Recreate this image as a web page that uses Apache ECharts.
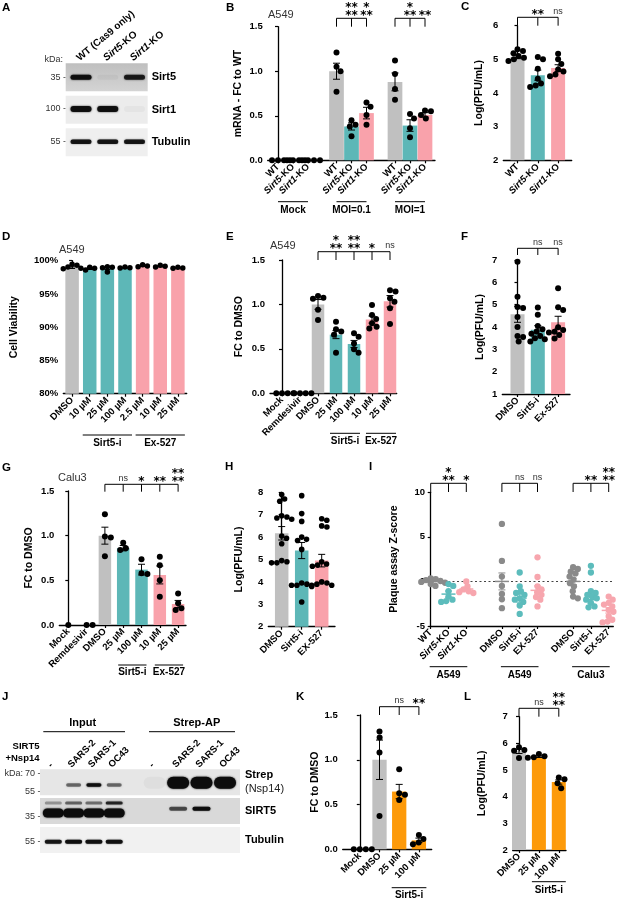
<!DOCTYPE html>
<html><head><meta charset="utf-8">
<script src="https://cdn.jsdelivr.net/npm/echarts@6/dist/echarts.min.js"></script>
<style>html,body{margin:0;padding:0;background:#fff}#c{width:623px;height:899px}</style>
</head><body><div id="c"></div>
<script>
// ================= DATA =================
// Panel A blot (band intensities per lane)
const A_lanes = ['WT (Cas9 only)', 'Sirt5-KO', 'Sirt1-KO'];
const A_strips = ['Sirt5', 'Sirt1', 'Tubulin'];
const A_markers = ['35', '100', '55'];
const A_sirt5Band = [0.95, 0.04, 0.85];
const A_sirt1Band = [0.95, 0.95, 0.03];
const A_tubulinBand = [0.9, 0.9, 0.9];

// Panel B
const B_categories = ['WT','Sirt5-KO','Sirt1-KO','WT','Sirt5-KO','Sirt1-KO','WT','Sirt5-KO','Sirt1-KO'];
const B_mean = [0,0,0,1.00,0.38,0.53,0.88,0.39,0.51];
const B_sem  = [0,0,0,0.09,0.04,0.065,0.10,0.065,0.025];
const B_points = [[0,0,0,0],[0,0,0,0],[0,0,0,0],[1.21,1.05,1.00,0.77],[0.45,0.40,0.38,0.27],[0.65,0.60,0.51,0.40],[1.12,0.97,0.80,0.68],[0.52,0.47,0.36,0.26],[0.56,0.55,0.51,0.47]];
const B_groupLabels = ['Mock','MOI=0.1','MOI=1'];
const B_sig = [['**\n**','*\n**'],['*\n**','**']];

// Panel C
const C_categories = ['WT','Sirt5-KO','Sirt1-KO'];
const C_mean = [5.07,4.53,4.74];
const C_sem = [0.05,0.15,0.10];
const C_points = [[5.30,5.25,5.18,5.10,5.05,5.00,4.95],[5.07,5.00,4.72,4.42,4.28,4.22,4.18],[5.17,5.00,4.86,4.70,4.64,4.55,4.50]];
const C_sig = ['**','ns'];

// Panel D
const D_categories = ['DMSO','10 µM','25 µM','100 µM','2.5 µM','10 µM','25 µM'];
const D_mean = [98.95,98.8,98.85,98.95,99.2,99.15,98.95];
const D_sem = [0.12,0.12,0.18,0.05,0.08,0.07,0.05];
const D_points = [[99.45,99.3,99.05,98.85,98.8],[99.0,98.85,98.6],[99.1,99.0,98.95,98.3],[99.05,98.95,98.9],[99.4,99.2,99.1],[99.3,99.15,99.05],[99.0,98.9,98.85]];
const D_groupLabels = ['Sirt5-i','Ex-527'];

// Panel E
const E_categories = ['Mock','Remdesivir','DMSO','25 µM','100 µM','10 µM','25 µM'];
const E_mean = [0,0,1.00,0.66,0.555,0.83,1.035];
const E_sem = [0,0,0.055,0.045,0.04,0.04,0.065];
const E_points = [[0,0,0,0],[0,0,0,0],[1.095,1.075,1.065,0.94,0.825],[0.806,0.72,0.695,0.66,0.457],[0.675,0.637,0.56,0.495,0.457],[0.994,0.88,0.836,0.787,0.75,0.73],[1.16,1.145,1.07,1.03,0.956,0.78]];
const E_sig = ['*\n**','**\n**','*','ns'];
const E_groupLabels = ['Sirt5-i','Ex-527'];

// Panel F
const F_categories = ['DMSO','Sirt5-i','Ex-527'];
const F_mean = [4.57,3.88,4.21];
const F_sem = [0.36,0.18,0.27];
const F_points = [[6.92,5.36,4.9,4.85,4.45,4.0,3.6,3.55,3.35],[4.87,4.55,4.05,3.9,3.8,3.7,3.6,3.5,3.45,3.35],[5.73,4.88,4.76,3.99,3.87,3.79,3.75,3.64,3.49]];
const F_sig = ['ns','ns'];

// Panel G
const G_categories = ['Mock','Remdesivir','DMSO','25 µM','100 µM','10 µM','25 µM'];
const G_mean = [0,0,1.00,0.86,0.62,0.56,0.235];
const G_sem = [0,0,0.095,0.03,0.06,0.10,0.04];
const G_points = [[0],[0,0],[1.24,0.99,0.98,0.77],[0.92,0.86,0.84],[0.735,0.58,0.57],[0.765,0.67,0.50,0.317],[0.354,0.243,0.187,0.168]];
const G_sig = ['ns','*','**','**\n**'];
const G_groupLabels = ['Sirt5-i','Ex-527'];

// Panel H
const H_categories = ['DMSO','Sirt5-i','EX-527'];
const H_mean = [6.17,5.40,4.95];
const H_sem = [0.30,0.36,0.28];
const H_points = [[7.9,7.7,7.6,6.95,6.9,6.85,6.8,6.05,5.95,5.7,4.95,4.9,4.85,4.85],[7.85,7.05,6.7,6.0,5.9,5.85,5.45,3.95,3.9,3.85,3.85,3.8,3.1],[6.82,6.75,6.5,6.45,4.9,4.8,4.75,4.7,4.0,3.95,3.9,3.85,3.85]];

// Panel I
const I_categories = ['WT','Sirt5-KO','Sirt1-KO','DMSO','Sirt5-i','EX-527','DMSO','Sirt5-i','EX-527'];
const I_mean = [0,-1.42,-0.85,0,-1.87,-1.0,0,-2.05,-3.25];
const I_sem = [0.1,0.35,0.15,0.95,0.45,0.5,0.35,0.4,0.3];
const I_points = [[0.35,0.25,0.15,0.05,-0.05,-0.15,-0.3,-0.5],[-0.3,-0.5,-1.1,-1.7,-2.05,-2.2,-2.3],[0,-0.55,-0.9,-1.1,-1.2,-1.3],[6.45,2.3,0.55,-0.5,-1.4,-2.0,-3.0],[1.0,-0.55,-1.1,-1.3,-1.5,-1.9,-2.05,-2.3,-2.7,-3.65],[2.7,0.5,-0.55,-0.9,-1.2,-1.5,-1.75,-2.05,-2.8],[1.6,1.4,1.1,0.9,0.55,0.2,-0.2,-0.55,-1.1,-1.7,-1.9],[1.75,1.0,-1.1,-1.3,-1.5,-1.7,-1.9,-2.05,-2.4,-2.8,-2.9],[-1.7,-2.05,-2.4,-2.6,-2.8,-3.2,-3.4,-3.9,-4.3,-4.5,-4.6]];
const I_sig = [['*\n**','*'],['ns','ns'],['**','**\n**']];
const I_groupLabels = ['A549','A549','Calu3'];

// Panel J blot
const J_lanes = ['-','SARS-2','SARS-1','OC43','-','SARS-2','SARS-1','OC43'];
const J_strips = ['Strep','SIRT5','Tubulin'];
const J_strepInput = [0, 0.5, 0.95, 0.5];
const J_strepAP = [0.03, 1, 1, 0.97];
const J_sirt5InputUpper = [0.3, 0.5, 0.45, 0.8];
const J_sirt5Input = [1, 1, 1, 1];
const J_sirt5AP = [0, 0.6, 0.95, 0];
const J_tubulinInput = [0.88, 0.95, 0.93, 0.93];

// Panel K
const K_categories = ['Mock','DMSO','25 µM','100 µM'];
const K_mean = [0,1.00,0.645,0.10];
const K_sem = [0,0.22,0.08,0.025];
const K_points = [[0,0,0,0],[1.317,1.25,1.08,0.373],[0.895,0.627,0.608,0.552],[0.16,0.116,0.075,0.056]];
const K_sig = ['ns','**'];

// Panel L
const L_categories = ['DMSO','25 µM','100 µM'];
const L_mean = [5.70,5.50,4.55];
const L_sem = [0.08,0.03,0.08];
const L_points = [[5.85,5.75,5.72,5.45],[5.6,5.52,5.48,5.46],[4.72,4.65,4.5,4.32]];
const L_sig = ['ns','**\n**'];

// ================= STYLE / LAYOUT =================
const FF = '"Liberation Sans", Arial, Helvetica, sans-serif';
const GR = '#c0c0c0', TE = '#5db7b7', PI = '#f9a2ab', OR = '#fd9a0a';
const IG = '#8a8a8a', IT = '#5cbcbc', IP = '#f7a6ae';

const grids = [], xAxes = [], yAxes = [], series = [], graphics = [];
function idxOf(arr, v){ for (let i=0;i<arr.length;i++) if (Math.abs(arr[i]-v)<1e-6) return i; return -1; }
function fmtCat(s){ return s.replace(/^(Sirt[15])(-KO)$/, '{i|$1}$2'); }
function italicRich(fs){ return {i:{fontStyle:'italic', fontWeight:'bold', fontSize:fs, fontFamily:FF, color:'#000'}}; }
function addGrid(l,t,w,h){ grids.push({left:l, top:t, width:w, height:h, containLabel:false, outerBoundsMode:'none'}); return grids.length-1; }

function swarm(ys, d){
  const order = ys.map((y,i)=>i).sort((a,b)=>ys[a]-ys[b]);
  const placed = [], off = new Array(ys.length).fill(0);
  order.forEach(i => {
    const cands = [0];
    placed.forEach(j => { const dy = ys[i]-ys[j]; if (Math.abs(dy) < d) { const dx = Math.sqrt(d*d-dy*dy); cands.push(off[j]+dx, off[j]-dx); } });
    cands.sort((a,b)=>Math.abs(a)-Math.abs(b) || b-a);
    let best = 0;
    for (const c of cands) { if (placed.every(j => (c-off[j])**2 + (ys[i]-ys[j])**2 >= d*d-0.01)) { best = c; break; } }
    off[i] = best; placed.push(i);
  });
  return off;
}

function chartPanel(p){
  const g = addGrid(p.left, p.top, p.width, p.height);
  const xi = xAxes.length, yi = yAxes.length;
  xAxes.push({type:'value', gridIndex:g, min:(p.left-p.x0)/p.unit, max:(p.left+p.width-p.x0)/p.unit,
    axisLine:{show:true, onZero:false, lineStyle:{color:'#000', width:1.3}},
    axisTick:{show:true, customValues:p.pos, length:3, lineStyle:{color:'#000', width:1.2}},
    splitLine:{show:false},
    axisLabel:{customValues:p.pos, rotate:45, margin:5, formatter:(v)=>fmtCat(p.cats[idxOf(p.pos,v)] || ''),
      fontFamily:FF, fontWeight:'bold', fontSize:9.5, color:'#000', rich:italicRich(9.5)}});
  yAxes.push({type:'value', gridIndex:g, min:p.yMin, max:p.yMax, interval:p.yInt,
    name:p.yTitle, nameLocation:'middle', nameGap:p.nameGap,
    nameTextStyle:{fontFamily:FF, fontWeight:'bold', fontSize:10.5, color:'#000'},
    axisLine:{show:true, lineStyle:{color:'#000', width:1.3}},
    axisTick:{show:true, length:3, lineStyle:{color:'#000', width:1.2}},
    splitLine:{show:false},
    axisLabel:{margin:5, formatter:p.yFmt, fontFamily:FF, fontWeight:'bold', fontSize:9.5, color:'#000'}});
  if (p.barW) {
    series.push({type:'bar', xAxisIndex:xi, yAxisIndex:yi, barWidth:p.barW, silent:true, z:2,
      data:p.pos.map((x,i)=>({value:[x,p.mean[i]], itemStyle:{color:p.colors[i]}}))});
  }
  const err = {type:'custom', xAxisIndex:xi, yAxisIndex:yi, clip:false, silent:true, z:5,
    data:p.pos.map((x,i)=>[x,p.mean[i],i]),
    renderItem(params, api){
      const i = params.dataIndex, m = p.mean[i], s = p.sem[i];
      if (!s && !p.meanLine) return {type:'group', children:[]};
      const x = api.coord([p.pos[i], m])[0];
      const yt = api.coord([p.pos[i], m+s])[1], yb = api.coord([p.pos[i], m-s])[1], ym = api.coord([p.pos[i], m])[1];
      const col = p.errColors ? p.errColors[i] : '#000', cw = p.cap;
      const st = {stroke:col, lineWidth:1};
      const ch = [{type:'line', shape:{x1:x,y1:yt,x2:x,y2:yb}, style:st},
        {type:'line', shape:{x1:x-cw,y1:yt,x2:x+cw,y2:yt}, style:st},
        {type:'line', shape:{x1:x-cw,y1:yb,x2:x+cw,y2:yb}, style:st}];
      if (p.meanLine) ch.push({type:'line', shape:{x1:x-p.meanLine,y1:ym,x2:x+p.meanLine,y2:ym}, style:{stroke:col, lineWidth:1.5}});
      return {type:'group', children:ch};
    }};
  if (p.zeroLine) err.markLine = {silent:true, symbol:'none', label:{show:false}, lineStyle:{type:[2,2.5], color:'#444', width:1.2}, data:[{yAxis:0}]};
  series.push(err);
  const dd = [];
  p.points.forEach((arr, ci) => arr.forEach((v,k) => dd.push([p.pos[ci], v, ci, k])));
  series.push({type:'custom', xAxisIndex:xi, yAxisIndex:yi, clip:false, silent:true, z:6, data:dd,
    renderItem(params, api){
      const ci = api.value(2), k = api.value(3), arr = p.points[ci];
      const cx = api.coord([p.pos[ci], arr[k]])[0];
      const ys = arr.map(v => api.coord([p.pos[ci], v])[1]);
      const off = swarm(ys, p.dot*p.sep);
      return {type:'circle', shape:{cx:cx+off[k], cy:ys[k], r:p.dot/2}, style:{fill:p.dotColors ? p.dotColors[ci] : '#000'}};
    }});
  if (p.brackets) {
    series.push({type:'custom', xAxisIndex:xi, yAxisIndex:yi, clip:false, silent:true, z:10,
      data:p.brackets.map(b=>[p.pos[b.from], p.yMax]),
      renderItem(params, api){
        const b = p.brackets[params.dataIndex];
        const top = api.coord([p.pos[b.from], p.yMax])[1];
        const y0 = top - p.brGap, y1 = y0 + p.brTick;
        const xs = [b.from].concat(b.to).map(i => api.coord([p.pos[i], p.yMax])[0]);
        const st = {stroke:'#000', lineWidth:1};
        const ch = [{type:'line', shape:{x1:xs[0],y1:y0,x2:xs[xs.length-1],y2:y0}, style:st}];
        xs.forEach(x => ch.push({type:'line', shape:{x1:x,y1:y0,x2:x,y2:y1}, style:st}));
        b.labels.forEach((lab,k) => {
          const x = xs[k+1];
          if (lab === 'ns') ch.push({type:'text', x, y:y0-1.5, style:{text:'ns', fontFamily:FF, fontSize:9, fill:'#333', align:'center', verticalAlign:'bottom'}});
          else ch.push({type:'text', x, y:y0+1.5, style:{text:lab, fontFamily:'"DejaVu Sans", sans-serif', fontWeight:'bold', fontSize:12, lineHeight:8, fill:'#000', align:'center', verticalAlign:'bottom'}});
        });
        return {type:'group', children:ch};
      }});
  }
  if (p.groups) {
    series.push({type:'custom', xAxisIndex:xi, yAxisIndex:yi, clip:false, silent:true, z:10,
      data:p.groups.map(gr=>[p.pos[gr.from], p.yMin]),
      renderItem(params, api){
        const gr = p.groups[params.dataIndex];
        const bottom = api.coord([p.pos[gr.from], p.yMin])[1];
        const xa = api.coord([p.pos[gr.from], p.yMin])[0] - p.gExt, xb = api.coord([p.pos[gr.to], p.yMin])[0] + p.gExt;
        const y = bottom + p.gLine;
        return {type:'group', children:[
          {type:'line', shape:{x1:xa,y1:y,x2:xb,y2:y}, style:{stroke:'#000', lineWidth:1}},
          {type:'text', x:(xa+xb)/2, y:y+p.gText, style:{text:gr.label, fontFamily:FF, fontWeight:'bold', fontSize:10, fill:'#000', align:'center', verticalAlign:'middle'}}]};
      }});
  }
}

function blotPanel(b){
  const g = addGrid(b.left, b.top, b.width, b.height);
  const xi = xAxes.length, yi = yAxes.length;
  const xmin = (b.left-b.x0)/b.unit, xmax = (b.left+b.width-b.x0)/b.unit;
  xAxes.push({type:'value', gridIndex:g, position:'top', min:xmin, max:xmax, show:false});
  yAxes.push({type:'category', gridIndex:g, inverse:true, data:b.strips, axisLine:{show:false}, axisTick:{show:false}, axisLabel:{show:false}, splitLine:{show:false}});
  yAxes.push({type:'category', gridIndex:g, inverse:true, position:'right', data:b.strips, axisLine:{show:false}, axisTick:{show:false}, splitLine:{show:false},
    axisLabel:{margin:b.rm, formatter:b.rfmt, rich:b.rrich, fontFamily:FF, fontWeight:'bold', fontSize:11, color:'#000', align:'left'}});
  series.push({type:'custom', xAxisIndex:xi, yAxisIndex:yi, silent:true, clip:false, z:1, data:b.strips.map((s,i)=>[0,i]),
    renderItem(params, api){
      const i = params.dataIndex, c = api.coord([xmin, i]), c2 = api.coord([xmax, i]);
      return {type:'rect', shape:{x:c[0], y:c[1]-b.sh/2, width:c2[0]-c[0], height:b.sh}, style:{fill:b.bg[i]}};
    }});
  const data = [];
  b.rows.forEach((r,ri) => r.vals.forEach((v,k) => { if (v>0) data.push([b.pos[r.lane0+k], r.strip, v, ri]); }));
  series.push({type:'custom', xAxisIndex:xi, yAxisIndex:yi, silent:true, clip:false, z:2, data,
    renderItem(params, api){
      const r = b.rows[api.value(3)], v = api.value(2);
      const c = api.coord([api.value(0), api.value(1)]);
      return {type:'rect', shape:{x:c[0]-r.w/2, y:c[1]+r.dy-r.h/2, width:r.w, height:r.h, r:r.h/2},
        style:{fill:'rgba(12,12,12,'+v+')', shadowBlur:r.blur, shadowColor:'rgba(0,0,0,'+(v*0.85)+')'}};
    }});
  series.push({type:'custom', xAxisIndex:xi, yAxisIndex:yi, silent:true, clip:false, z:3, data:b.pos.map(x=>[x,0]),
    renderItem(params, api){
      const i = params.dataIndex, c = api.coord([b.pos[i], 0]);
      const top = c[1] - b.sh/2;
      return {type:'text', x:c[0]+b.ldx, y:top-b.lm, rotation:b.rot*Math.PI/180,
        style:{text:fmtCat(b.lanes[i]), rich:italicRich(b.lfs), fontFamily:FF, fontWeight:'bold', fontSize:b.lfs, fill:'#000', align:'left', verticalAlign:'middle'}};
    }});
}

const bracket = (from, to, labels) => ({from, to, labels});
const grp = (label, from, to) => ({label, from, to});

blotPanel({left:65.7, top:61, width:82, height:97.5, x0:81, unit:26.75, pos:[0,1,2], lanes:A_lanes, strips:A_strips,
  rot:40, lm:4, ldx:-3, lfs:10, rm:4, sh:28,
  rfmt:(v)=>v, rrich:{},
  bg:[{type:'linear',x:0,y:0,x2:0,y2:1,colorStops:[{offset:0,color:'#bfbfbf'},{offset:1,color:'#d4d4d4'}]}, '#ececec', '#efefef'],
  rows:[{strip:0, lane0:0, vals:A_sirt5Band, dy:0, h:5, w:21, blur:2},
        {strip:1, lane0:0, vals:A_sirt1Band, dy:-0.7, h:6, w:21, blur:2},
        {strip:2, lane0:0, vals:A_tubulinBand, dy:-0.5, h:4.5, w:21, blur:1.5}]});

chartPanel({left:267.7, top:26.7, width:167.3, height:133.6, x0:278, unit:15, pos:[0,1,2,3.9,4.9,5.9,7.8,8.8,9.8],
  cats:B_categories, mean:B_mean, sem:B_sem, points:B_points, colors:[GR,TE,PI,GR,TE,PI,GR,TE,PI],
  yMin:0, yMax:1.5, yInt:0.5, yFmt:(v)=>v.toFixed(1), yTitle:'mRNA - FC to WT', nameGap:23.7,
  barW:14.7, dot:6, sep:1, cap:3.5, brGap:8.4, brTick:8.4,
  brackets:[bracket(3,[4,5],B_sig[0]), bracket(6,[7,8],B_sig[1])],
  groups:[grp(B_groupLabels[0],0,2), grp(B_groupLabels[1],3,5), grp(B_groupLabels[2],6,8)], gLine:41.4, gText:9, gExt:0});

chartPanel({left:503.3, top:25.7, width:68.4, height:134.6, x0:517.5, unit:20.3, pos:[0,1,2],
  cats:C_categories, mean:C_mean, sem:C_sem, points:C_points, colors:[GR,TE,PI],
  yMin:2, yMax:6, yInt:1, yFmt:(v)=>String(v), yTitle:'Log(PFU/mL)', nameGap:19,
  barW:14, dot:6, sep:0.95, cap:3.5, brGap:8.4, brTick:8.4,
  brackets:[bracket(0,[1,2],C_sig)]});

chartPanel({left:63.3, top:260.7, width:123.4, height:133, x0:72.1, unit:17.63, pos:[0,1,2,3,4,5,6],
  cats:D_categories, mean:D_mean, sem:D_sem, points:D_points, colors:[GR,TE,TE,TE,PI,PI,PI],
  yMin:80, yMax:100, yInt:5, yFmt:(v)=>v+'%', yTitle:'Cell Viability', nameGap:44,
  barW:13.5, dot:5.5, sep:0.9, cap:3,
  groups:[grp(D_groupLabels[0],1,3), grp(D_groupLabels[1],4,6)], gLine:41.3, gText:8, gExt:7});

chartPanel({left:270, top:260, width:126.7, height:133.3, x0:282, unit:18, pos:[0,1,2,3,4,5,6],
  cats:E_categories, mean:E_mean, sem:E_sem, points:E_points, colors:[GR,GR,GR,TE,TE,PI,PI],
  yMin:0, yMax:1.5, yInt:0.5, yFmt:(v)=>v.toFixed(1), yTitle:'FC to DMSO', nameGap:25.7,
  barW:12.5, dot:6, sep:0.95, cap:3.5, brGap:8.3, brTick:8.3,
  brackets:[bracket(2,[3,4,5,6],E_sig)],
  groups:[grp(E_groupLabels[0],3,4), grp(E_groupLabels[1],5,6)], gLine:40, gText:8.4, gExt:6});

chartPanel({left:502.3, top:260, width:67.7, height:134, x0:517.5, unit:20.3, pos:[0,1,2],
  cats:F_categories, mean:F_mean, sem:F_sem, points:F_points, colors:[GR,TE,PI],
  yMin:1, yMax:7, yInt:1, yFmt:(v)=>String(v), yTitle:'Log(PFU/mL)', nameGap:16.3,
  barW:14, dot:6, sep:0.95, cap:3.5, brGap:11.7, brTick:6.7,
  brackets:[bracket(0,[1,2],F_sig)]});

chartPanel({left:59.3, top:491, width:126.7, height:134, x0:68.3, unit:18.3, pos:[0,1,2,3,4,5,6],
  cats:G_categories, mean:G_mean, sem:G_sem, points:G_points, colors:[GR,GR,GR,TE,TE,PI,PI],
  yMin:0, yMax:1.5, yInt:0.5, yFmt:(v)=>v.toFixed(1), yTitle:'FC to DMSO', nameGap:25,
  barW:12.5, dot:6, sep:1, cap:3.5, brGap:6.7, brTick:7.4,
  brackets:[bracket(2,[3,4,5,6],G_sig)],
  groups:[grp(G_groupLabels[0],3,4), grp(G_groupLabels[1],5,6)], gLine:40, gText:7, gExt:5});

chartPanel({left:268.3, top:492.3, width:66.7, height:134.4, x0:281.7, unit:20, pos:[0,1,2],
  cats:H_categories, mean:H_mean, sem:H_sem, points:H_points, colors:[GR,TE,PI],
  yMin:2, yMax:8, yInt:1, yFmt:(v)=>String(v), yTitle:'Log(PFU/mL)', nameGap:23.3,
  barW:13.5, dot:5.6, sep:0.95, cap:3.5});

chartPanel({left:430, top:492.3, width:183.3, height:133.7, x0:430.7, unit:17.8, pos:[0,1,2,4,5,6,8,9,10],
  cats:I_categories, mean:I_mean, sem:I_sem, points:I_points,
  dotColors:[IG,IT,IP,IG,IT,IP,IG,IT,IP], errColors:[IG,IT,IP,IG,IT,IP,IG,IT,IP],
  yMin:-5, yMax:10, yInt:5, yFmt:(v)=>String(v), yTitle:'Plaque assay Z-score', nameGap:30.7,
  dot:6.3, sep:0.8, cap:3.5, meanLine:7, zeroLine:true, brGap:9, brTick:8.7,
  brackets:[bracket(0,[1,2],I_sig[0]), bracket(3,[4,5],I_sig[1]), bracket(6,[7,8],I_sig[2])],
  groups:[grp(I_groupLabels[0],0,2), grp(I_groupLabels[1],3,5), grp(I_groupLabels[2],6,8)], gLine:40.7, gText:9, gExt:1});

blotPanel({left:40, top:767.7, width:200, height:86.7, x0:53.3, unit:20.3, pos:[0,1,2,3,4.99,6.15,7.3,8.46], lanes:J_lanes, strips:J_strips,
  rot:45, lm:3, ldx:-4, lfs:9.5, rm:5, sh:26,
  rfmt:(v)=> v==='Strep' ? '{b|Strep}\n{n|(Nsp14)}' : '{b|'+v+'}',
  rrich:{b:{fontFamily:FF, fontWeight:'bold', fontSize:11, color:'#000', lineHeight:14, align:'left'}, n:{fontFamily:FF, fontWeight:'normal', fontSize:11, color:'#222', lineHeight:14, align:'left'}},
  bg:['#e6e6e6','#d9d9d9','#f1f1f1'],
  rows:[{strip:0, lane0:0, vals:J_strepInput, dy:2.8, h:3.5, w:15, blur:2},
        {strip:0, lane0:4, vals:J_strepAP, dy:0.5, h:12, w:22, blur:2},
        {strip:1, lane0:0, vals:J_sirt5InputUpper, dy:-8, h:3, w:17, blur:2},
        {strip:1, lane0:0, vals:J_sirt5Input, dy:2, h:9, w:21, blur:2},
        {strip:1, lane0:4, vals:J_sirt5AP, dy:-2.2, h:4, w:18, blur:1.5},
        {strip:2, lane0:0, vals:J_tubulinInput, dy:1.7, h:4, w:17, blur:1.5}]});

chartPanel({left:342.7, top:715, width:89, height:134.3, x0:359.8, unit:19.7, pos:[0,1,2,3],
  cats:K_categories, mean:K_mean, sem:K_sem, points:K_points, colors:[GR,GR,OR,OR],
  yMin:0, yMax:1.5, yInt:0.5, yFmt:(v)=>v.toFixed(1), yTitle:'FC to DMSO', nameGap:21.7,
  barW:14.3, dot:6, sep:1, cap:3.5, brGap:8.3, brTick:8.3,
  brackets:[bracket(1,[2,3],K_sig)],
  groups:[grp('Sirt5-i',2,3)], gLine:38.4, gText:7.5, gExt:7.5});

chartPanel({left:512.7, top:716.7, width:53.3, height:133.3, x0:519, unit:19.9, pos:[0,1,2],
  cats:L_categories, mean:L_mean, sem:L_sem, points:L_points, colors:[GR,OR,OR],
  yMin:2, yMax:7, yInt:1, yFmt:(v)=>String(v), yTitle:'Log(PFU/mL)', nameGap:25,
  barW:14, dot:6, sep:1, cap:3.5, brGap:8.4, brTick:8.4,
  brackets:[bracket(0,[1,2],L_sig)],
  groups:[grp('Sirt5-i',1,2)], gLine:31.7, gText:8.3, gExt:7});

const T = (x,y,text,o) => ({type:'text', x, y, silent:true, style:Object.assign({text, fontFamily:FF, fontSize:9, fill:'#000', align:'left', verticalAlign:'middle'}, o||{})});
const LET = {fontWeight:'bold', fontSize:11.5, verticalAlign:'top'};
[['A',2,2],['B',226,2],['C',461,1],['D',2,231],['E',226,231],['F',461,231],['G',2,462],['H',225,461],['I',369,461],['J',2,691],['K',296,691],['L',464,691]]
  .forEach(a => graphics.push(T(a[1],a[2],a[0],LET)));
const SUB = {fontSize:11, fill:'#333'};
graphics.push(T(268,15,'A549',SUB), T(59,250,'A549',SUB), T(270,245.5,'A549',SUB), T(58,477.5,'Calu3',SUB));
const MK = {fontSize:9, fill:'#333', align:'right'};
graphics.push(T(63,60,'kDa:',MK));
A_markers.forEach((m,i) => graphics.push(T(66,[77.3,109,141.7][i], m+' -', MK)));
graphics.push(T(82.7,723.3,'Input',{fontWeight:'bold', fontSize:11, align:'center'}),
  {type:'line', silent:true, shape:{x1:43.3,y1:731.7,x2:125,y2:731.7}, style:{stroke:'#000', lineWidth:1}},
  T(196.7,723.3,'Strep-AP',{fontWeight:'bold', fontSize:11, align:'center'}),
  {type:'line', silent:true, shape:{x1:149,y1:731.7,x2:235,y2:731.7}, style:{stroke:'#000', lineWidth:1}},
  T(39.5,746.7,'SIRT5',{fontWeight:'bold', fontSize:9.5, align:'right'}),
  T(39.5,758.3,'+Nsp14',{fontWeight:'bold', fontSize:9.5, align:'right'}),
  T(23,773.3,'kDa:',MK), T(40.5,773.3,'70 -',MK), T(40.5,791.7,'55 -',MK), T(40.5,816.7,'35 -',MK), T(40.5,841.7,'55 -',MK));

const chart = echarts.init(document.getElementById('c'), null, {renderer:'canvas'});
chart.setOption({animation:false, backgroundColor:'#fff', grid:grids, xAxis:xAxes, yAxis:yAxes, series, graphic:{elements:graphics}});
</script></body></html>
